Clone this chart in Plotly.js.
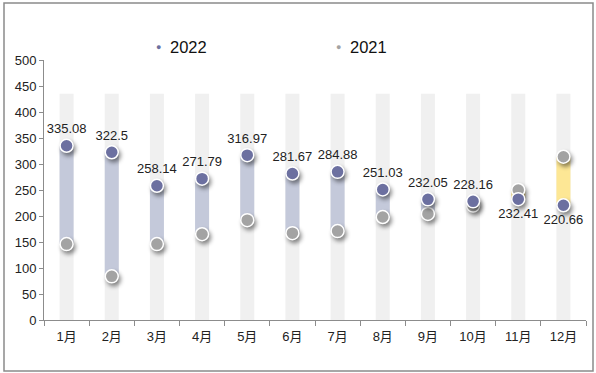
<!DOCTYPE html>
<html><head><meta charset="utf-8">
<script src="https://cdn.plot.ly/plotly-3.0.1.min.js"></script>
<style>
html,body{margin:0;padding:0;background:#fff;}
#chart{width:596px;height:373px;}
.scatterlayer .trace .points path{filter:drop-shadow(2px 3px 2px rgba(0,0,0,0.45));}
</style>
</head><body>
<div id="chart"></div>
<script>
const months = ['1月','2月','3月','4月','5月','6月','7月','8月','9月','10月','11月','12月'];
const values2022 = [335.08,322.5,258.14,271.79,316.97,281.67,284.88,251.03,232.05,228.16,232.41,220.66];
const values2021 = [146,84,146,165,192,167,171,198,204,220,250,314];
const seriesNames = ['2022','2021'];
const backTop = 435;

const colBlue = '#6c70a0', colGray = '#a3a3a3';
const diff = values2022.map((v,i)=>v-values2021[i]);
const rangeColors = diff.map(d=> d>=0 ? '#c4c9da' : '#fde795');
const labelPos = diff.map(d=> d>=0 ? 'top center' : 'bottom center');
const font = '"Liberation Sans", Arial, "Noto Sans CJK SC", sans-serif';

const traces = [
  {type:'bar', x:months, y:months.map(()=>backTop), width:0.31, marker:{color:'#f0f0f0'}, showlegend:false, hoverinfo:'skip'},
  {type:'bar', x:months, y:diff, base:values2021, width:0.31, marker:{color:rangeColors}, showlegend:false, hoverinfo:'skip'},
  {type:'scatter', mode:'markers', x:months, y:values2021, name:seriesNames[1], marker:{size:13, color:colGray, line:{color:'#fff', width:1.5}}, showlegend:false},
  {type:'scatter', mode:'markers+text', x:months, y:values2022, name:seriesNames[0], text:values2022.map(String), textposition:labelPos,
   textfont:{family:font, size:13, color:'#222'}, marker:{size:13, color:colBlue, line:{color:'#fff', width:1.5}}, showlegend:false, cliponaxis:false}
];

const legendAnn = (xpx, name, color) => ([
  {xref:'paper', yref:'paper', x:(xpx-44)/542, y:(320-47)/260, xanchor:'center', yanchor:'middle', showarrow:false,
   text:'●', font:{size:9, color:color}},
  {xref:'paper', yref:'paper', x:(xpx+10-44)/542, y:(320-47)/260, xanchor:'left', yanchor:'middle', showarrow:false,
   text:name, font:{size:16.5, color:'#111'}}
]);

const layout = {
  width:596, height:373,
  margin:{l:44, r:10, t:60, b:53},
  paper_bgcolor:'#fff', plot_bgcolor:'#fff',
  barmode:'overlay',
  font:{family:font, color:'#222', size:13},
  showlegend:false,
  xaxis:{type:'category', range:[-0.5,11.5], showline:true, linecolor:'#8c8c8c', linewidth:1, ticks:'outside', tickson:'boundaries',
         ticklen:5, tickcolor:'#8c8c8c', showgrid:false, tickfont:{size:13, color:'#222'}, ticklabelstandoff:4, fixedrange:true},
  yaxis:{range:[0,500], dtick:50, showline:true, linecolor:'#8c8c8c', linewidth:1, ticks:'outside', ticklen:4,
         tickcolor:'#8c8c8c', showgrid:false, zeroline:false, tickfont:{size:13, color:'#222'}, fixedrange:true},
  annotations:[...legendAnn(158, seriesNames[0], colBlue), ...legendAnn(338, seriesNames[1], colGray)],
  shapes:[{type:'rect', xref:'paper', yref:'paper', x0:(4-44)/542, x1:(593-44)/542, y0:(320-371)/260, y1:(320-3)/260,
           line:{color:'#8a8a8a', width:1.5}, fillcolor:'rgba(0,0,0,0)', layer:'below'}]
};

Plotly.newPlot('chart', traces, layout, {displayModeBar:false, staticPlot:true});
</script>
</body></html>
